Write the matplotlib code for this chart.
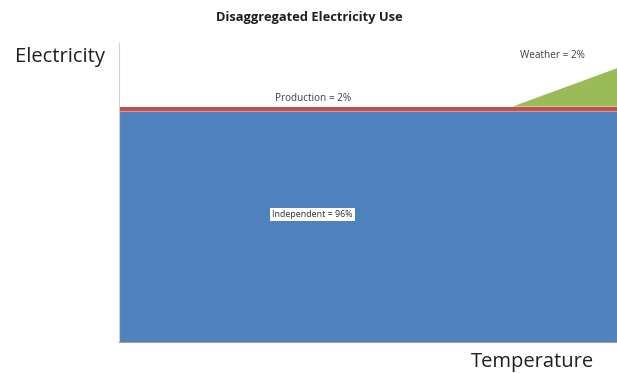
import numpy as np
import matplotlib.pyplot as plt

plt.rcParams['font.family'] = ['Open Sans', 'DejaVu Sans']

# temperature axis (arbitrary units)
temp = [0, 79, 100]
independent = [96, 96, 96]
production = [2, 2, 2]
weather = [0, 0, 16]

labels = ["Independent = 96%", "Production = 2%", "Weather = 2%"]
colors = ["#4f81bd", "#c0504d", "#9bbb59"]

fig = plt.figure(figsize=(6.17, 3.73), dpi=100)
ax = fig.add_axes([119/617, 31/373, 498/617, 299/373])

ax.stackplot(temp, independent, production, weather, colors=colors, linewidth=0)
# light seam between blue and red bands
ax.plot(temp, independent, color="#d99694", lw=0.8)

ax.set_xlim(0, 100)
ax.set_ylim(0, 124.5)
ax.set_xticks([])
ax.set_yticks([])
for s in ["top", "right"]:
    ax.spines[s].set_visible(False)
ax.spines["left"].set_color("#d0d0d0")
ax.spines["bottom"].set_color("#a0a0a0")
ax.spines["left"].set_linewidth(0.8)

ax.text(39, 101.5, labels[1], fontsize=7.2, color="#404040", ha="center", va="center")
ax.text(87, 119.5, labels[2], fontsize=7.2, color="#404040", ha="center", va="center")
ax.text(38.8, 53, labels[0], fontsize=6.4, color="#303030", ha="center", va="center",
        bbox=dict(facecolor="white", edgecolor="none", pad=1.5))

fig.text(309/617, 1 - 18/373, "Disaggregated Electricity Use", fontsize=9.3, fontweight="bold",
         ha="center", va="center", color="#202020")
fig.text(60/617, 1 - 57/373, "Electricity", fontsize=14.5, ha="center", va="center", color="#202020")
fig.text(532/617, 1 - 362/373, "Temperature", fontsize=14.5, ha="center", va="center", color="#202020")

fig.savefig("out.png", dpi=100)
